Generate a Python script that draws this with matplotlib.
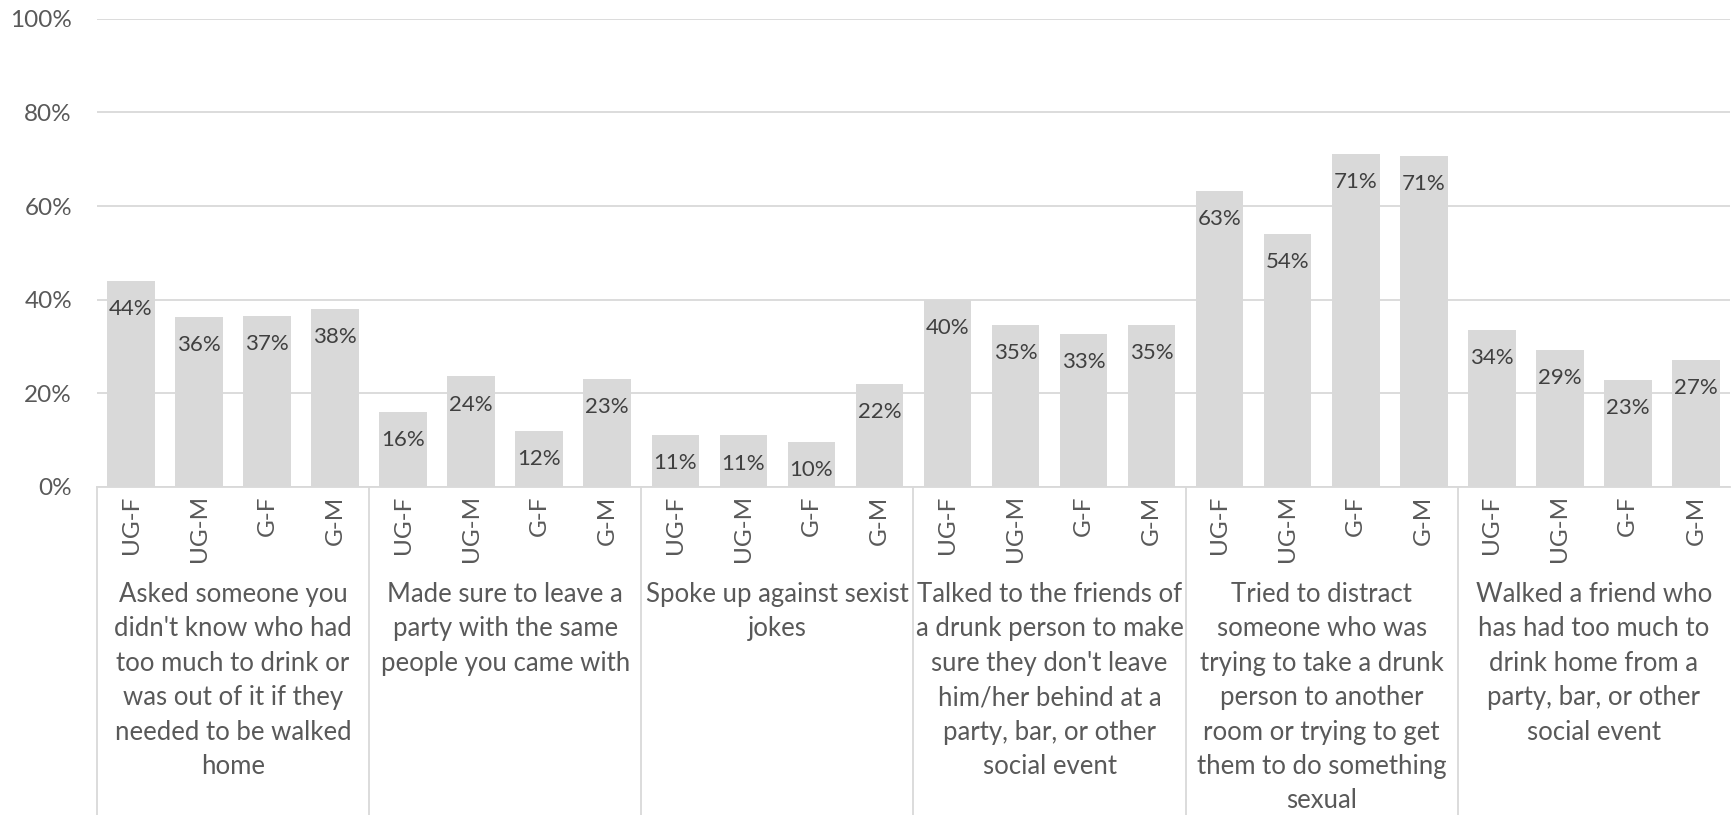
import matplotlib.pyplot as plt
from matplotlib.ticker import PercentFormatter

# groups of behaviours and the four respondent types in each
groups = [
    "Asked someone you\ndidn't know who had\ntoo much to drink or\nwas out of it if they\nneeded to be walked\nhome",
    "Made sure to leave a\nparty with the same\npeople you came with",
    "Spoke up against sexist\njokes",
    "Talked to the friends of\na drunk person to make\nsure they don't leave\nhim/her behind at a\nparty, bar, or other\nsocial event",
    "Tried to distract\nsomeone who was\ntrying to take a drunk\nperson to another\nroom or trying to get\nthem to do something\nsexual",
    "Walked a friend who\nhas had too much to\ndrink home from a\nparty, bar, or other\nsocial event",
]
subgroups = ["UG-F", "UG-M", "G-F", "G-M"]

asked = [0.44, 0.364, 0.366, 0.38]
left_same = [0.16, 0.236, 0.12, 0.23]
spoke_up = [0.112, 0.11, 0.096, 0.22]
talked_friends = [0.40, 0.346, 0.326, 0.346]
distract = [0.632, 0.54, 0.711, 0.706]
walked_home = [0.336, 0.292, 0.228, 0.272]

values = asked + left_same + spoke_up + talked_friends + distract + walked_home
labels = subgroups * len(groups)

font = ["Lato", "DejaVu Sans"]
plt.rcParams["font.family"] = font

fig = plt.figure(figsize=(17.32, 8.15), dpi=100)
ax = fig.add_axes([0.056, 0.4025, 0.9428, 0.5745])

x = list(range(len(values)))
ax.bar(x, values, width=0.7, color="#d9d9d9", zorder=2)

for xi, v in zip(x, values):
    ax.annotate(f"{v:.0%}", (xi, v), xytext=(0, -13), textcoords="offset points",
                ha="center", va="top", fontsize=16, color="#404040", zorder=3)

ax.set_xlim(-0.5, len(values) - 0.5)
ax.set_ylim(0, 1)
ax.set_yticks([0, 0.2, 0.4, 0.6, 0.8, 1.0])
ax.yaxis.set_major_formatter(PercentFormatter(1.0, decimals=0))
ax.grid(axis="y", color="#d9d9d9", linewidth=1.3, zorder=0)
ax.set_axisbelow(True)
for s in ["top", "right", "left"]:
    ax.spines[s].set_visible(False)
ax.spines["bottom"].set_color("#d9d9d9")
ax.spines["bottom"].set_linewidth(1.3)

ax.set_xticks(x)
ax.set_xticklabels(labels, rotation=90, fontsize=17.5, color="#595959")
ax.tick_params(axis="x", length=0, pad=6)
ax.tick_params(axis="y", length=0, pad=18, labelsize=17.5, labelcolor="#595959")

# group separators below the axis and category captions
n = len(subgroups)
for g, name in enumerate(groups):
    x0 = g * n - 0.5
    ax.plot([x0, x0], [0, -0.71], color="#d9d9d9", linewidth=1.3,
            transform=ax.get_xaxis_transform(), clip_on=False)
    ax.text(g * n + (n - 1) / 2, -0.203, name, transform=ax.get_xaxis_transform(),
            ha="center", va="top", fontsize=18.5, color="#595959", linespacing=1.47)

fig.savefig("out.png", dpi=100)
